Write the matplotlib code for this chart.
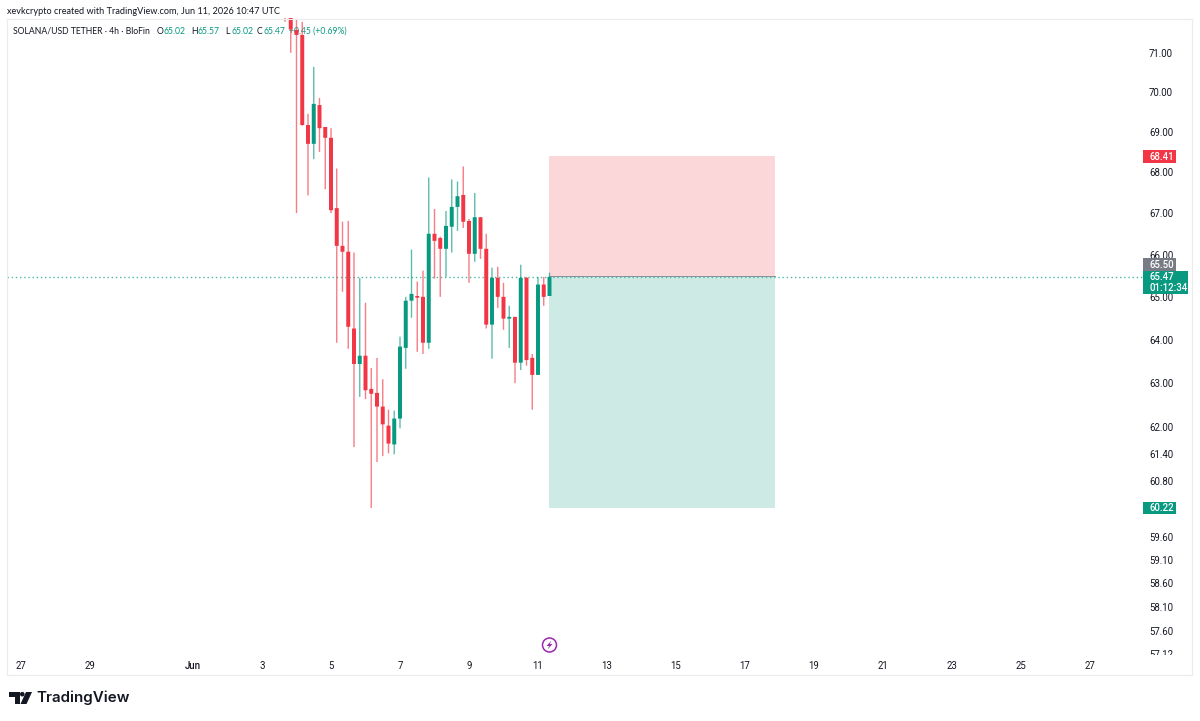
#!/usr/bin/env python3
# SOL/USDT 4h candles with a short position tool, TradingView look
import pandas as pd
import matplotlib
matplotlib.use('Agg')
import matplotlib.pyplot as plt
import matplotlib.dates as mdates
import matplotlib.patches as mpatches
import matplotlib.transforms as mtrans

plt.rcParams['font.family'] = ['Roboto', 'DejaVu Sans']

# candle values, first candle is Jun 3 16:00
opens = [72.20, 72.00, 71.59, 71.46, 69.17, 68.70, 69.67, 69.12, 68.85, 67.12,
         66.21, 66.07, 64.26, 63.44, 63.63, 62.87, 62.78, 62.47, 62.04, 61.62,
         62.20, 63.81, 64.91, 65.02, 65.00, 63.93, 66.50, 66.40, 66.14, 66.67,
         67.15, 67.44, 66.81, 66.02, 66.90, 66.14, 64.35, 65.45, 65.00, 64.49,
         64.53, 63.47, 65.45, 63.58, 63.19, 65.29, 65.02]
highs = [72.30, 72.20, 71.85, 71.80, 69.45, 70.64, 69.85, 69.12, 69.09, 68.09,
         66.79, 66.81, 66.05, 65.45, 64.86, 63.35, 63.58, 63.09, 62.40, 62.38,
         64.07, 65.00, 66.12, 65.36, 65.62, 67.87, 67.10, 66.43, 67.05, 67.82,
         67.77, 68.14, 66.86, 67.49, 66.90, 66.50, 65.69, 65.71, 65.33, 64.79,
         64.53, 65.76, 65.47, 63.67, 65.47, 65.47, 65.57]
lows = [71.80, 71.00, 67.00, 69.15, 67.43, 68.32, 68.50, 67.58, 67.00, 63.93,
        65.12, 63.79, 61.56, 62.69, 62.64, 60.22, 61.23, 61.36, 61.42, 61.40,
        61.98, 63.33, 64.51, 63.72, 63.67, 63.79, 65.43, 65.00, 65.47, 66.05,
        66.57, 66.64, 65.33, 65.83, 65.90, 64.26, 63.56, 64.74, 64.23, 63.81,
        63.00, 63.30, 63.40, 62.40, 63.19, 64.79, 65.02]
closes = [71.90, 71.60, 71.46, 69.17, 68.70, 69.70, 69.09, 68.85, 67.07, 66.21,
          66.07, 64.30, 63.44, 63.63, 62.84, 62.76, 62.47, 62.07, 61.64, 62.20,
          63.84, 64.91, 65.07, 64.98, 63.93, 66.50, 66.33, 66.14, 66.69, 67.15,
          67.41, 66.79, 66.02, 66.90, 66.14, 64.35, 65.45, 65.00, 64.49, 64.53,
          63.47, 65.45, 63.53, 63.19, 65.29, 65.00, 65.47]

price_ticks = [71, 70, 69, 68, 67, 66, 65, 64, 63, 62, 61.4, 60.8,
               59.6, 59.1, 58.6, 58.1, 57.6, 57.12]
date_ticks = ['2026-05-27', '2026-05-29', '2026-06-01', '2026-06-03', '2026-06-05',
              '2026-06-07', '2026-06-09', '2026-06-11', '2026-06-13', '2026-06-15',
              '2026-06-17', '2026-06-19', '2026-06-21', '2026-06-23', '2026-06-25',
              '2026-06-27']
date_labels = ['27', '29', 'Jun', '3', '5', '7', '9', '11', '13', '15', '17',
               '19', '21', '23', '25', '27']

stop_price = 68.41
entry_price = 65.50
target_price = 60.22
last_price = 65.47

RED = '#f23645'
GREEN = '#089981'
GRAY = '#787b86'
TEXT = '#131722'

fig = plt.figure(figsize=(12, 7.21), dpi=100)
W, H = 1200.0, 721.0
# pixel coordinates of the reference, y going down
px = mtrans.Affine2D().scale(1/W, -1/H).translate(0, 1) + fig.transFigure

ax = fig.add_axes([7/W, 1-655/H, (1143-7)/W, (655-18)/H])
ax.set_yscale('log')
ax.set_ylim(57.1, 71.9)
day0 = mdates.date2num(pd.Timestamp('2026-06-01'))
ax.set_xlim(day0 - 5.391, day0 + 27.536)
for s in ax.spines.values():
    s.set_visible(False)

times = mdates.date2num(pd.date_range('2026-06-03 16:00', periods=len(opens), freq='4h'))

# position tool
left = mdates.date2num(pd.Timestamp('2026-06-11 08:00'))
right = mdates.date2num(pd.Timestamp('2026-06-17 21:00'))
ax.fill_between([left, right], entry_price, stop_price, color='#fbd7da', lw=0, zorder=1)
ax.fill_between([left, right], target_price, entry_price, color='#cdeae5', lw=0, zorder=1)
ax.plot([left, right], [entry_price, entry_price], color='#8a8e99', lw=0.7, zorder=2)

# last price line
ax.axhline(last_price, color='#4db8a6', lw=1.0, ls=(0, (1, 2)), zorder=2)

# candles
colors = [GREEN if c >= o else RED for o, c in zip(opens, closes)]
wicks = ax.vlines(times, lows, highs, colors=colors, lw=1.0, alpha=0.65, zorder=4)
wicks.set_snap(False)
for t, o, c, col in zip(times, opens, closes, colors):
    low_body = min(o, c)
    high_body = max(o, c)
    bars = ax.bar(t, high_body - low_body, bottom=low_body, width=0.115, color=col, lw=0, zorder=5)
    bars[0].set_snap(False)

# price axis
ax.yaxis.tick_right()
ax.set_yticks(price_ticks)
ax.set_yticklabels(['%.2f' % p for p in price_ticks])
ax.minorticks_off()
ax.tick_params(axis='y', which='both', length=0, pad=4.3, labelsize=6.9, labelcolor=TEXT)
clip = mtrans.TransformedBbox(mtrans.Bbox([[0, 1-655/H], [1, 1]]), fig.transFigure)
for lab in ax.get_yticklabels():
    lab.set_clip_box(clip)
    lab.set_clip_on(True)

# time axis
ax.set_xticks(mdates.date2num(pd.to_datetime(date_ticks)))
ax.set_xticklabels(date_labels)
ax.tick_params(axis='x', which='both', length=0, pad=4.5, labelsize=6.9, labelcolor=TEXT)
ax.get_xticklabels()[2].set_fontweight('medium')

# chart frame
for xs, ys in [([7, 7], [19, 675]), ([7, 1192], [675, 675]), ([1192, 1192], [19, 675]), ([7, 1192], [19, 19])]:
    fig.add_artist(plt.Line2D(xs, ys, color='#ececec', lw=0.8, transform=px))

# header and legend, kept under the candles
fig.text(7, 11, 'xevkcrypto created with TradingView.com, Jun 11, 2026 10:47 UTC',
         transform=px, family=['Lato', 'DejaVu Sans'], fontsize=6.55, color=TEXT, va='center')
legend = [(13, 'SOLANA/USD TETHER · 4h · BloFin', TEXT), (157, 'O', TEXT), (163, '65.02', GREEN),
          (191, 'H', TEXT), (197, '65.57', GREEN), (225, 'L', TEXT), (231, '65.02', GREEN),
          (257, 'C', TEXT), (263, '65.47', GREEN), (289, '+0.45 (+0.69%)', GREEN)]
for x, s, col in legend:
    ax.text(x, 31, s, transform=px, family=['Lato', 'DejaVu Sans'], fontsize=6.2, color=col,
            va='center', zorder=3, clip_on=False)

# price badges
def badge(y0, y1, x1, col):
    ax.add_patch(mpatches.Rectangle((1143, y0), x1-1143, y1-y0, transform=px, color=col,
                                    lw=0, zorder=10, clip_on=False))

def badge_text(x, y, s):
    ax.text(x, y, s, transform=px, color='white', fontsize=6.9, fontweight='medium',
            va='center', zorder=11, clip_on=False)

badge(149.5, 162.5, 1176, RED)
badge_text(1149, 156.5, '%.2f' % stop_price)
badge(257.7, 270.5, 1176, GRAY)
badge_text(1149, 264.5, '%.2f' % entry_price)
badge(270.5, 294, 1188, GREEN)
badge_text(1149, 277.5, '%.2f' % last_price)
badge_text(1149, 288, '01:12:34')
badge(501.5, 514, 1176, GREEN)
badge_text(1149, 508, '%.2f' % target_price)

# lightning icon on the time axis
fig.add_artist(mpatches.Circle((549.5, 645), 7, transform=px, fill=False, ec='#9c27b0', lw=1.1))
fig.add_artist(mpatches.Polygon([(551.5, 640.5), (546.5, 646), (549.3, 646), (547.5, 649.5),
                                 (552.5, 644), (549.7, 644)], transform=px, color='#9c27b0', lw=0))

# TradingView logo
logo = '#131722'
fig.add_artist(mpatches.Polygon([(9, 692), (19.5, 692), (19.5, 704), (14.5, 704), (14.5, 696.5), (9, 696.5)],
                                transform=px, color=logo, lw=0))
fig.add_artist(mpatches.Circle((22.3, 694.2), 2.3, transform=px, color=logo, lw=0))
fig.add_artist(mpatches.Polygon([(26, 692), (32, 692), (26.5, 704), (20.5, 704)], transform=px, color=logo, lw=0))
fig.text(36.5, 698, 'TradingView', transform=px, family=['Inter', 'DejaVu Sans'], fontsize=10.9,
         fontweight='semibold', color=logo, va='center')

fig.savefig('out.png', dpi=100)
